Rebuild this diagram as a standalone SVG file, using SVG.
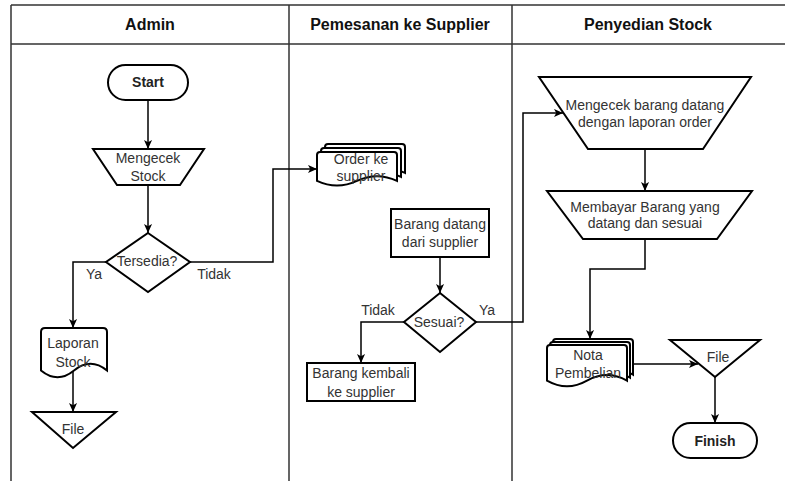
<svg xmlns="http://www.w3.org/2000/svg" width="785" height="481" viewBox="0 0 785 481">
  <style>
    .lane { stroke: #333; stroke-width: 1.5; fill: none; }
    .shape { fill: #fff; stroke: #000; stroke-width: 2; }
    .edge { fill: none; stroke: #000; stroke-width: 1.5; }
    .hd { font-family: "Liberation Sans", Arial, Helvetica, sans-serif; font-size: 16px; font-weight: bold; fill: #111; text-anchor: middle; }
    .t { font-family: "Liberation Sans", Arial, Helvetica, sans-serif; font-size: 14px; fill: #333; text-anchor: middle; }
    .tb { font-family: "Liberation Sans", Arial, Helvetica, sans-serif; font-size: 14px; font-weight: bold; fill: #222; text-anchor: middle; }
  </style>
  <defs>
    <marker id="arrow" viewBox="0 0 10 10" refX="10" refY="5" markerWidth="9" markerHeight="9" markerUnits="userSpaceOnUse" orient="auto">
      <path d="M0,0.5 L10,5 L0,9.5 L2.5,5 Z" fill="#000"/>
    </marker>
  </defs>

  <rect width="785" height="481" fill="#fff"/>

  <!-- swimlane pool -->
  <g id="pool">
    <path class="lane" d="M11,5 H785 M11,44 H785 M11,5 V481 M289,5 V481 M512,5 V481"/>
    <text class="hd" x="150" y="30">Admin</text>
    <text class="hd" x="400" y="30">Pemesanan ke Supplier</text>
    <text class="hd" x="648" y="30">Penyedian Stock</text>
  </g>

  <!-- connectors -->
  <g id="connectors">
    <path class="edge" d="M148,100 V149" marker-end="url(#arrow)"/>
    <path class="edge" d="M148,185 V233" marker-end="url(#arrow)"/>
    <path class="edge" d="M106,262 H73 V328" marker-end="url(#arrow)"/>
    <path class="edge" d="M73,371 V412" marker-end="url(#arrow)"/>
    <path class="edge" d="M190,262 H273 V169 H317" marker-end="url(#arrow)"/>
    <path class="edge" d="M440,257 V293" marker-end="url(#arrow)"/>
    <path class="edge" d="M404,322 H361 V363" marker-end="url(#arrow)"/>
    <path class="edge" d="M476,322 H523 V113 H563" marker-end="url(#arrow)"/>
    <path class="edge" d="M645,149 V191" marker-end="url(#arrow)"/>
    <path class="edge" d="M645,239 V269 H590 V339" marker-end="url(#arrow)"/>
    <path class="edge" d="M633,364 H698" marker-end="url(#arrow)"/>
    <path class="edge" d="M715,377 V423" marker-end="url(#arrow)"/>
    <text class="t" x="94" y="279">Ya</text>
    <text class="t" x="214" y="279">Tidak</text>
    <text class="t" x="378" y="315">Tidak</text>
    <text class="t" x="487" y="315">Ya</text>
  </g>

  <!-- Admin lane -->
  <g id="start">
    <rect class="shape" x="108" y="65" width="80" height="35" rx="17.5"/>
    <text class="tb" x="148" y="87">Start</text>
  </g>
  <g id="mengecek-stock">
    <polygon class="shape" points="93,149 204,149 180,185 117,185"/>
    <text class="t" x="148" y="163">Mengecek</text>
    <text class="t" x="148" y="181">Stock</text>
  </g>
  <g id="tersedia">
    <polygon class="shape" points="148,233 190,262 148,292 106,262"/>
    <text class="t" x="147" y="266">Tersedia?</text>
  </g>
  <g id="laporan-stock">
    <path class="shape" d="M41,332 Q41,328 45,328 H103 Q107,328 107,332 V370.5 Q90.5,357 74,370.5 Q57.5,384 41,370.5 Z"/>
    <text class="t" x="73" y="348">Laporan</text>
    <text class="t" x="73" y="367">Stock</text>
  </g>
  <g id="file-admin">
    <polygon class="shape" points="32,412 116,412 73,448"/>
    <text class="t" x="73" y="434">File</text>
  </g>

  <!-- Pemesanan ke Supplier lane -->
  <g id="order-ke-supplier">
    <path class="shape" d="M325,147 Q325,144 328,144 H402 Q405,144 405,147 V172.9 Q385,163.7 365,172.9 Q345,182.1 325,172.9 Z"/>
    <path class="shape" d="M321,151 Q321,148 324,148 H398 Q401,148 401,151 V176.9 Q381,167.7 361,176.9 Q341,186.1 321,176.9 Z"/>
    <path class="shape" d="M317,155 Q317,152 320,152 H394 Q397,152 397,155 V180.9 Q377,171.7 357,180.9 Q337,190.1 317,180.9 Z"/>
    <text class="t" x="361" y="164">Order ke</text>
    <text class="t" x="361" y="181">supplier</text>
  </g>
  <g id="barang-datang">
    <rect class="shape" x="391" y="209" width="98" height="48"/>
    <text class="t" x="440" y="229">Barang datang</text>
    <text class="t" x="440" y="247">dari supplier</text>
  </g>
  <g id="sesuai">
    <polygon class="shape" points="440,293 476,322 440,352 404,322"/>
    <text class="t" x="439" y="327">Sesuai?</text>
  </g>
  <g id="barang-kembali">
    <rect class="shape" x="307" y="363" width="108" height="38"/>
    <text class="t" x="361" y="378">Barang kembali</text>
    <text class="t" x="361" y="397">ke supplier</text>
  </g>

  <!-- Penyedian Stock lane -->
  <g id="mengecek-barang">
    <polygon class="shape" points="539,77 751,77 703,149 588,149"/>
    <text class="t" x="645" y="110">Mengecek barang datang</text>
    <text class="t" x="645" y="127">dengan laporan order</text>
  </g>
  <g id="membayar">
    <polygon class="shape" points="547,191 752,191 717,239 583,239"/>
    <text class="t" x="645" y="212">Membayar Barang yang</text>
    <text class="t" x="645" y="228">datang dan sesuai</text>
  </g>
  <g id="nota-pembelian">
    <path class="shape" d="M553,342 Q553,339 556,339 H630 Q633,339 633,342 V374.7 Q613,363.4 593,374.7 Q573,386 553,374.7 Z"/>
    <path class="shape" d="M550,345 Q550,342 553,342 H627 Q630,342 630,345 V377.7 Q610,366.4 590,377.7 Q570,389 550,377.7 Z"/>
    <path class="shape" d="M547,348 Q547,345 550,345 H624 Q627,345 627,348 V380.7 Q607,369.4 587,380.7 Q567,392 547,380.7 Z"/>
    <text class="t" x="588" y="360">Nota</text>
    <text class="t" x="588" y="378">Pembelian</text>
  </g>
  <g id="file-stock">
    <polygon class="shape" points="670,340 760,340 715,377"/>
    <text class="t" x="718" y="362">File</text>
  </g>
  <g id="finish">
    <rect class="shape" x="673" y="423" width="84" height="35" rx="17.5"/>
    <text class="tb" x="715" y="446">Finish</text>
  </g>
</svg>
